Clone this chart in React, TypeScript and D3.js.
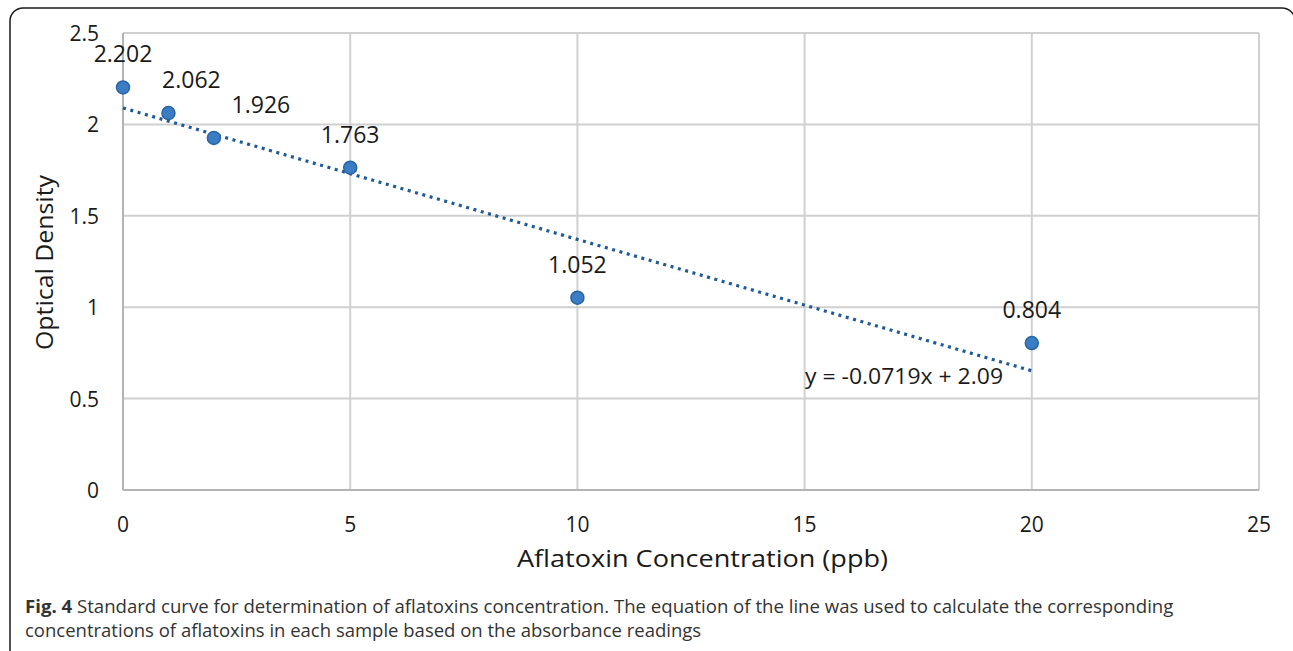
import React, { useRef, useEffect } from "react";
import * as d3 from "d3";

// standard curve readings
const concentrations = [0, 1, 2, 5, 10, 20];
const densities = [2.202, 2.062, 1.926, 1.763, 1.052, 0.804];
const pointLabels = ["2.202", "2.062", "1.926", "1.763", "1.052", "0.804"];

const xTicks = [0, 5, 10, 15, 20, 25];
const yTicks = [0, 0.5, 1, 1.5, 2, 2.5];

// linear trendline reported on the chart
const trendSlope = -0.0719;
const trendIntercept = 2.09;
const trendRange = [0, 20];
const trendLabel = "y = -0.0719x + 2.09";

const xTitle = "Aflatoxin Concentration (ppb)";
const yTitle = "Optical Density";
const captionBold = "Fig. 4";
const captionLine1 =
  " Standard curve for determination of aflatoxins concentration. The equation of the line was used to calculate the corresponding";
const captionLine2 =
  "concentrations of aflatoxins in each sample based on the absorbance readings";

const W = 1293;
const H = 651;

function App() {
  const svgRef = useRef<SVGSVGElement>(null);

  useEffect(() => {
    const svg = d3.select(svgRef.current);
    svg.selectAll("*").remove();

    const chartFont = "'Open Sans', sans-serif";
    const margin = { top: 33, right: W - 1259, bottom: H - 490, left: 123 };

    const xScale = d3.scaleLinear().domain([0, 25]).range([margin.left, W - margin.right]);
    const yScale = d3.scaleLinear().domain([0, 2.5]).range([H - margin.bottom, margin.top]);

    // outer frame
    svg
      .append("rect")
      .attr("x", 10)
      .attr("y", 8)
      .attr("width", 1285)
      .attr("height", 660)
      .attr("rx", 13)
      .attr("fill", "white")
      .attr("stroke", "#1a1a1a")
      .attr("stroke-width", 1.5);

    // gridlines
    svg
      .append("g")
      .selectAll("line")
      .data(yTicks.filter((d) => d > 0))
      .enter()
      .append("line")
      .attr("x1", xScale(0))
      .attr("x2", xScale(25))
      .attr("y1", (d) => yScale(d))
      .attr("y2", (d) => yScale(d))
      .attr("stroke", "#d0d0d0")
      .attr("stroke-width", 2);

    svg
      .append("g")
      .selectAll("line")
      .data(xTicks.filter((d) => d > 0))
      .enter()
      .append("line")
      .attr("x1", (d) => xScale(d))
      .attr("x2", (d) => xScale(d))
      .attr("y1", yScale(0))
      .attr("y2", yScale(2.5))
      .attr("stroke", "#d0d0d0")
      .attr("stroke-width", 2);

    // axis lines
    svg
      .append("line")
      .attr("x1", xScale(0))
      .attr("x2", xScale(25))
      .attr("y1", yScale(0))
      .attr("y2", yScale(0))
      .attr("stroke", "#b4b4b4")
      .attr("stroke-width", 2);
    svg
      .append("line")
      .attr("x1", xScale(0))
      .attr("x2", xScale(0))
      .attr("y1", yScale(0))
      .attr("y2", yScale(2.5))
      .attr("stroke", "#b4b4b4")
      .attr("stroke-width", 2);

    // tick labels
    svg
      .append("g")
      .selectAll("text")
      .data(yTicks)
      .enter()
      .append("text")
      .attr("x", 99)
      .attr("y", (d) => yScale(d) + 8)
      .attr("text-anchor", "end")
      .attr("font-family", chartFont)
      .attr("font-size", 21)
      .attr("fill", "#1a1a1a")
      .text((d) => String(d));

    svg
      .append("g")
      .selectAll("text")
      .data(xTicks)
      .enter()
      .append("text")
      .attr("x", (d) => xScale(d))
      .attr("y", 532)
      .attr("text-anchor", "middle")
      .attr("font-family", chartFont)
      .attr("font-size", 21)
      .attr("fill", "#1a1a1a")
      .text((d) => String(d));

    // axis titles (source image is slightly stretched horizontally)
    svg
      .append("text")
      .attr("x", 517)
      .attr("y", 567)
      .attr("font-family", chartFont)
      .attr("font-size", 24.5)
      .attr("textLength", 371)
      .attr("lengthAdjust", "spacingAndGlyphs")
      .attr("fill", "#1a1a1a")
      .text(xTitle);

    svg
      .append("text")
      .attr("transform", `translate(53, 350) rotate(-90)`)
      .attr("font-family", chartFont)
      .attr("font-size", 24.5)
      .attr("textLength", 175)
      .attr("lengthAdjust", "spacingAndGlyphs")
      .attr("fill", "#1a1a1a")
      .text(yTitle);

    // trendline
    const trend = d3
      .line<number>()
      .x((d) => xScale(d))
      .y((d) => yScale(trendSlope * d + trendIntercept));

    svg
      .append("path")
      .attr("d", trend(trendRange))
      .attr("fill", "none")
      .attr("stroke", "#1f5a96")
      .attr("stroke-width", 3.2)
      .attr("stroke-dasharray", "3,4.6");

    // equation
    svg
      .append("text")
      .attr("x", 805)
      .attr("y", 384)
      .attr("font-family", chartFont)
      .attr("font-size", 22)
      .attr("textLength", 198)
      .attr("lengthAdjust", "spacingAndGlyphs")
      .attr("fill", "#1a1a1a")
      .text(trendLabel);

    // points
    const pts = concentrations.map((c, i) => ({ x: c, y: densities[i], label: pointLabels[i] }));
    const labelDx = [0, 23, 47, 0, 0, 0];

    svg
      .append("g")
      .selectAll("circle")
      .data(pts)
      .enter()
      .append("circle")
      .attr("cx", (d) => xScale(d.x))
      .attr("cy", (d) => yScale(d.y))
      .attr("r", 6.5)
      .attr("fill", "#3b7dc4")
      .attr("stroke", "#2a64a3")
      .attr("stroke-width", 1.5);

    svg
      .append("g")
      .selectAll("text")
      .data(pts)
      .enter()
      .append("text")
      .attr("x", (d, i) => xScale(d.x) + labelDx[i])
      .attr("y", (d) => yScale(d.y) - 25)
      .attr("text-anchor", "middle")
      .attr("font-family", chartFont)
      .attr("font-size", 23)
      .attr("fill", "#1a1a1a")
      .text((d) => d.label);

    // caption
    const cap = svg
      .append("text")
      .attr("x", 25)
      .attr("y", 613)
      .attr("font-family", "'Open Sans', sans-serif")
      .attr("font-size", 18.6)
      .attr("fill", "#333");
    cap.append("tspan").attr("font-weight", "bold").text(captionBold);
    cap.append("tspan").text(captionLine1);

    svg
      .append("text")
      .attr("x", 25)
      .attr("y", 637)
      .attr("font-family", "'Open Sans', sans-serif")
      .attr("font-size", 18.5)
      .attr("fill", "#333")
      .text(captionLine2);
  }, []);

  return (
    <div style={{ position: "absolute", left: 0, top: 0, width: W, height: H, background: "white" }}>
      <svg ref={svgRef} width={W} height={H}></svg>
    </div>
  );
}

export default App;
